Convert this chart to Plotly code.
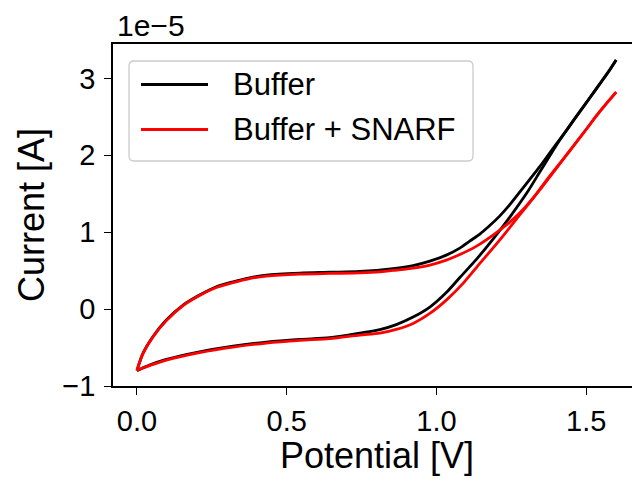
import plotly.graph_objects as go

# ---- data (current in units of 1e-5 A) ----
series_names = ["Buffer", "Buffer + SNARF"]
series_colors = ["#000000", "#ff0000"]

# Buffer: forward (upper) branch and reverse (lower) branch
buffer_fwd_v = [0.000, 0.020, 0.053, 0.098, 0.154, 0.209, 0.265, 0.321, 0.376, 0.432,
                0.544, 0.644, 0.744, 0.855, 0.922, 0.978, 1.033, 1.078, 1.111, 1.145,
                1.178, 1.211, 1.245, 1.278, 1.311, 1.345, 1.378, 1.412, 1.445, 1.478,
                1.512, 1.545, 1.579, 1.600]
buffer_fwd_i = [-0.800, -0.576, -0.360, -0.143, 0.052, 0.182, 0.290, 0.355, 0.407, 0.442,
                0.468, 0.479, 0.490, 0.527, 0.566, 0.624, 0.702, 0.793, 0.884, 0.975,
                1.086, 1.209, 1.359, 1.521, 1.684, 1.853, 2.029, 2.207, 2.386, 2.566,
                2.748, 2.928, 3.115, 3.238]
buffer_rev_v = [1.600, 1.579, 1.545, 1.512, 1.478, 1.445, 1.412, 1.378, 1.345, 1.301,
                1.245, 1.189, 1.134, 1.078, 1.033, 0.978, 0.922, 0.866, 0.811, 0.744,
                0.644, 0.544, 0.432, 0.321, 0.209, 0.098, 0.042, 0.000]
buffer_rev_i = [3.238, 3.110, 2.924, 2.744, 2.562, 2.380, 2.198, 1.990, 1.782, 1.505,
                1.196, 0.910, 0.650, 0.410, 0.215, 0.026, -0.104, -0.202, -0.267, -0.312,
                -0.371, -0.394, -0.429, -0.481, -0.555, -0.654, -0.728, -0.800]

# Buffer + SNARF
snarf_fwd_v = [0.000, 0.020, 0.053, 0.098, 0.154, 0.209, 0.265, 0.321, 0.376, 0.432,
               0.544, 0.644, 0.744, 0.811, 0.866, 0.922, 0.978, 1.033, 1.078, 1.134,
               1.189, 1.245, 1.295, 1.345, 1.401, 1.445, 1.501, 1.545, 1.600]
snarf_fwd_i = [-0.793, -0.579, -0.364, -0.150, 0.046, 0.176, 0.280, 0.345, 0.397, 0.429,
               0.455, 0.464, 0.471, 0.484, 0.507, 0.533, 0.572, 0.637, 0.709, 0.819,
               0.962, 1.131, 1.320, 1.550, 1.833, 2.057, 2.342, 2.567, 2.822]
snarf_rev_v = [1.600, 1.545, 1.501, 1.445, 1.378, 1.323, 1.267, 1.211, 1.145, 1.089,
               1.033, 0.978, 0.922, 0.866, 0.811, 0.744, 0.644, 0.544, 0.432, 0.321,
               0.209, 0.098, 0.042, 0.000]
snarf_rev_i = [2.822, 2.567, 2.342, 2.057, 1.730, 1.443, 1.170, 0.897, 0.594, 0.334,
               0.117, -0.056, -0.186, -0.264, -0.312, -0.338, -0.384, -0.407, -0.442, -0.494,
               -0.566, -0.663, -0.735, -0.793]

x_ticks = [0.0, 0.5, 1.0, 1.5]
x_tick_labels = ["0.0", "0.5", "1.0", "1.5"]
y_ticks = [-1, 0, 1, 2, 3]
y_tick_labels = ["\u22121", "0", "1", "2", "3"]

FONT = "Liberation Sans, Arial, Helvetica, sans-serif"
TICK_SIZE = 29
TITLE_SIZE = 36
LEGEND_SIZE = 31
LW = 2.8

fig = go.Figure()
branches = [
    (buffer_fwd_v, buffer_fwd_i, 0),
    (buffer_rev_v, buffer_rev_i, 0),
    (snarf_fwd_v, snarf_fwd_i, 1),
    (snarf_rev_v, snarf_rev_i, 1),
]
for xs, ys, k in branches:
    fig.add_trace(go.Scatter(x=xs, y=ys, mode="lines", name=series_names[k],
                             legendgroup=series_names[k], showlegend=False,
                             line=dict(color=series_colors[k], width=LW,
                                       shape="spline", smoothing=0.8)))

W, H = 632, 479
L, T, B = 113, 44, 93
PW, PH = W - L, H - T - B


def px(xp):
    return (xp - L) / PW


def py(yp):
    return (H - B - yp) / PH


# legend box (rounded) drawn manually to mimic the reference
x0, x1, y0, y1 = px(129), px(473), py(161), py(61)
rx, ry = 5 / PW, 5 / PH
path = (f"M {x0+rx},{y1} L {x1-rx},{y1} Q {x1},{y1} {x1},{y1-ry} "
        f"L {x1},{y0+ry} Q {x1},{y0} {x1-rx},{y0} L {x0+rx},{y0} "
        f"Q {x0},{y0} {x0},{y0+ry} L {x0},{y1-ry} Q {x0},{y1} {x0+rx},{y1} Z")
shapes = [dict(type="path", path=path, xref="paper", yref="paper",
               fillcolor="rgba(255,255,255,0.8)", line=dict(color="#cccccc", width=1.3),
               layer="above")]
annotations = []
for k, (name, col) in enumerate(zip(series_names, series_colors)):
    yy = 84.5 + 45 * k
    shapes.append(dict(type="line", xref="paper", yref="paper",
                       x0=px(141), x1=px(208), y0=py(yy), y1=py(yy),
                       line=dict(color=col, width=LW), layer="above"))
    annotations.append(dict(text=name, xref="paper", yref="paper", x=px(231), y=py(yy),
                            xanchor="left", yanchor="middle", showarrow=False,
                            font=dict(family=FONT, size=LEGEND_SIZE, color="#000000")))

# offset text
annotations.append(dict(text="1e\u22125", xref="paper", yref="paper", x=px(115), y=1,
                        xanchor="left", yanchor="bottom", yshift=0, showarrow=False,
                        font=dict(family=FONT, size=TICK_SIZE + 1, color="#000000")))
# axis titles (matplotlib centres the x label on the full axes, which extends past the crop)
annotations.append(dict(text="Potential [V]", xref="paper", yref="paper", x=px(377),
                        y=py(455), xanchor="center", yanchor="middle", showarrow=False,
                        font=dict(family=FONT, size=TITLE_SIZE, color="#000000")))
annotations.append(dict(text="Current [A]", xref="paper", yref="paper", x=px(31),
                        y=py(215), xanchor="center", yanchor="middle", showarrow=False,
                        textangle=-90,
                        font=dict(family=FONT, size=TITLE_SIZE, color="#000000")))

fig.update_layout(
    width=W, height=H,
    margin=dict(l=L, r=0, t=T, b=B, pad=0),
    paper_bgcolor="white", plot_bgcolor="white",
    showlegend=False,
    shapes=shapes, annotations=annotations,
    font=dict(family=FONT, color="#000000"),
)
fig.update_xaxes(range=[-0.08, 1.653], tickvals=x_ticks, ticktext=x_tick_labels,
                 showgrid=False, zeroline=False, showline=True, linecolor="black",
                 linewidth=1.5, mirror=True, ticks="outside", ticklen=7, tickwidth=1.3,
                 tickcolor="black", tickfont=dict(size=TICK_SIZE, family=FONT),
                 ticklabelstandoff=1)
fig.update_yaxes(range=[-1.0, 3.447], tickvals=y_ticks, ticktext=y_tick_labels,
                 showgrid=False, zeroline=False, showline=True, linecolor="black",
                 linewidth=1.5, mirror=False, ticks="outside", ticklen=7, tickwidth=1.3,
                 tickcolor="black", tickfont=dict(size=TICK_SIZE, family=FONT),
                 ticklabelstandoff=3)

fig.write_html("out.html")
